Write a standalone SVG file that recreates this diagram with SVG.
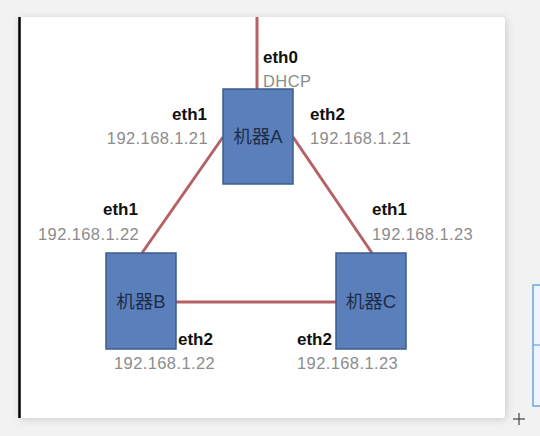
<svg xmlns="http://www.w3.org/2000/svg" width="540" height="436" viewBox="0 0 540 436">
<defs>
<style>
.box{fill:#5b7fba;stroke:#3d5c8c;stroke-width:1.5}
.lbl{font-family:"Liberation Sans","Noto Sans CJK SC",sans-serif;font-size:18.5px;fill:#1e2d4a;text-anchor:middle}
.eth{font-family:"Liberation Sans",sans-serif;font-size:17px;font-weight:bold;fill:#111}
.ip{font-family:"Liberation Sans",sans-serif;font-size:16.5px;fill:#8c8c8c;letter-spacing:0.4px}
.link{stroke:#b56266;stroke-width:3;fill:none}
</style>
<filter id="sh" x="-10%" y="-10%" width="120%" height="120%">
<feGaussianBlur stdDeviation="4"/>
</filter>
</defs>
<rect x="0" y="0" width="540" height="436" fill="#f2f2f2"/>
<rect x="20" y="19" width="486" height="400" fill="#c8c8c8" filter="url(#sh)"/>
<rect x="19" y="17" width="486" height="401" rx="3" fill="#ffffff"/>
<line x1="19.5" y1="17" x2="19.5" y2="418" stroke="#000" stroke-width="2.5"/>
<rect x="533" y="285" width="10" height="121" fill="#eef4fb" stroke="#6aa6e0" stroke-width="1.5"/>
<line x1="533" y1="345" x2="540" y2="345" stroke="#6aa6e0" stroke-width="1.2"/>
<g stroke="#444" stroke-width="1.2">
<line x1="519" y1="413" x2="519" y2="425"/>
<line x1="513" y1="419" x2="525" y2="419"/>
</g>
<g id="connectors">
<line class="link" x1="257" y1="17" x2="257" y2="89"/>
<line class="link" x1="223" y1="137" x2="142" y2="253"/>
<line class="link" x1="293" y1="137" x2="372" y2="253"/>
<line class="link" x1="176" y1="302" x2="336" y2="302"/>
</g>
<g id="nodeA">
<rect class="box" x="223" y="89" width="70" height="95"/>
<text class="lbl" x="258" y="143">机器A</text>
</g>
<g id="nodeB">
<rect class="box" x="106" y="253" width="70" height="96"/>
<text class="lbl" x="141" y="308">机器B</text>
</g>
<g id="nodeC">
<rect class="box" x="336" y="253" width="70" height="96"/>
<text class="lbl" x="371" y="308">机器C</text>
</g>
<g id="labels">
<text class="eth" x="263" y="63">eth0</text>
<text class="ip" x="263" y="87">DHCP</text>
<text class="eth" x="207" y="120" text-anchor="end">eth1</text>
<text class="ip" x="208" y="144" text-anchor="end">192.168.1.21</text>
<text class="eth" x="310" y="120">eth2</text>
<text class="ip" x="310" y="144">192.168.1.21</text>
<text class="eth" x="103" y="215">eth1</text>
<text class="ip" x="38" y="240">192.168.1.22</text>
<text class="eth" x="372" y="215">eth1</text>
<text class="ip" x="372" y="240">192.168.1.23</text>
<text class="eth" x="178" y="345">eth2</text>
<text class="ip" x="114" y="369">192.168.1.22</text>
<text class="eth" x="297" y="345">eth2</text>
<text class="ip" x="297" y="369">192.168.1.23</text>
</g>
</svg>
